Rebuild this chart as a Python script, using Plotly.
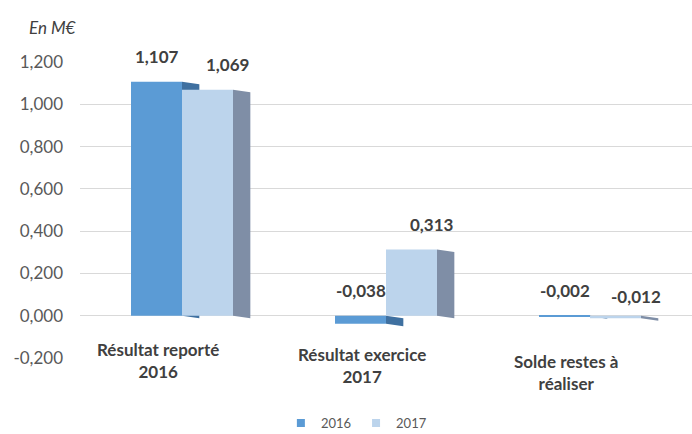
import plotly.graph_objects as go

# Data (M€)
categories = ["Résultat reporté<br>2016", "Résultat exercice<br>2017", "Solde restes à<br>réaliser"]
series_names = ["2016", "2017"]
values_2016 = [1.107, -0.038, -0.002]
values_2017 = [1.069, 0.313, -0.012]
tick_vals = [-0.2, 0.0, 0.2, 0.4, 0.6, 0.8, 1.0, 1.2]
tick_text = ["-0,200", "0,000", "0,200", "0,400", "0,600", "0,800", "1,000", "1,200"]

front_colors = ["#5b9bd5", "#bcd4ec"]
side_colors = ["#3f70a0", "#7f8ea6"]
FONT = "Lato, 'Open Sans', sans-serif"

bar_w = 0.25       # width of one bar in category units (bargap 0.5, two series)
depth_x = 0.085    # horizontal depth of the pseudo-3D side face
depth_y = -0.012   # vertical drop of the side face (value units)


def fmt(v):
    return f"{v:.3f}".replace(".", ",")


fig = go.Figure()
idx = list(range(len(categories)))
all_values = [values_2016, values_2017]
for s, vals in enumerate(all_values):
    fig.add_trace(go.Bar(
        x=idx, y=vals, name=series_names[s], showlegend=False,
        marker=dict(color=front_colors[s], line=dict(width=0)),
    ))
# small square legend keys
for s, name in enumerate(series_names):
    fig.add_trace(go.Scatter(
        x=[None], y=[None], mode="markers", name=name,
        marker=dict(symbol="square", size=8, color=front_colors[s]),
    ))

shapes = []
annotations = []
for s, vals in enumerate(all_values):
    for i, v in enumerate(vals):
        x_left = i - bar_w + s * bar_w
        x_right = x_left + bar_w
        # side face drawn behind the bars so the neighbouring bar hides it
        path = (f"M {x_right},0 L {x_right},{v} "
                f"L {x_right + depth_x},{v + depth_y} L {x_right + depth_x},{depth_y} Z")
        shapes.append(dict(type="path", path=path, xref="x", yref="y",
                           fillcolor=side_colors[s], line=dict(width=0), layer="between"))
        annotations.append(dict(
            x=x_left + bar_w / 2 + s * 0.1, y=max(v, 0), xref="x", yref="y",
            text=f"<b>{fmt(v)}</b>", showarrow=False, yshift=25 - 6 * s * (v < 0),
            font=dict(family=FONT, size=17, color="#404040"),
        ))

# category labels under the floor (paper coords, stepping down with the perspective)
label_y = [-0.007, -0.026, -0.05]
for i, lab in enumerate(categories):
    annotations.append(dict(
        x=(i - 0.12 + 0.5) / 3, y=label_y[i], xref="paper", yref="paper",
        text=f"<b>{lab}</b>", showarrow=False, align="center",
        xanchor="center", yanchor="middle",
        font=dict(family=FONT, size=17, color="#404040"),
    ))

# unit caption above the value axis
annotations.append(dict(
    x=(27 - 80) / 612, y=1 + (62 - 28) / 296, xref="paper", yref="paper",
    text="<i>En M€</i>", showarrow=False, xanchor="left", yanchor="middle",
    font=dict(family=FONT, size=17, color="#404040"),
))

fig.update_layout(
    width=692, height=434,
    margin=dict(l=80, r=0, t=62, b=76),
    paper_bgcolor="white", plot_bgcolor="white",
    barmode="group", bargap=0.5, bargroupgap=0,
    showlegend=True,
    legend=dict(orientation="h", xref="container", yref="container",
                x=0.515, y=0.025, xanchor="center", yanchor="middle",
                font=dict(family=FONT, size=13, color="#595959"),
                itemwidth=30, traceorder="normal"),
    xaxis=dict(range=[-0.5, 2.5], showticklabels=False, showgrid=False,
               zeroline=False, showline=False, ticks=""),
    yaxis=dict(range=[-0.2, 1.2], tickvals=tick_vals, ticktext=tick_text,
               showgrid=True, gridcolor="#d9d9d9", gridwidth=1,
               zeroline=True, zerolinecolor="#d9d9d9", zerolinewidth=1,
               showline=False, ticks="", ticklabelstandoff=16,
               tickfont=dict(family=FONT, size=17, color="#595959")),
    shapes=shapes,
    annotations=annotations,
)

fig.write_html("out.html")
